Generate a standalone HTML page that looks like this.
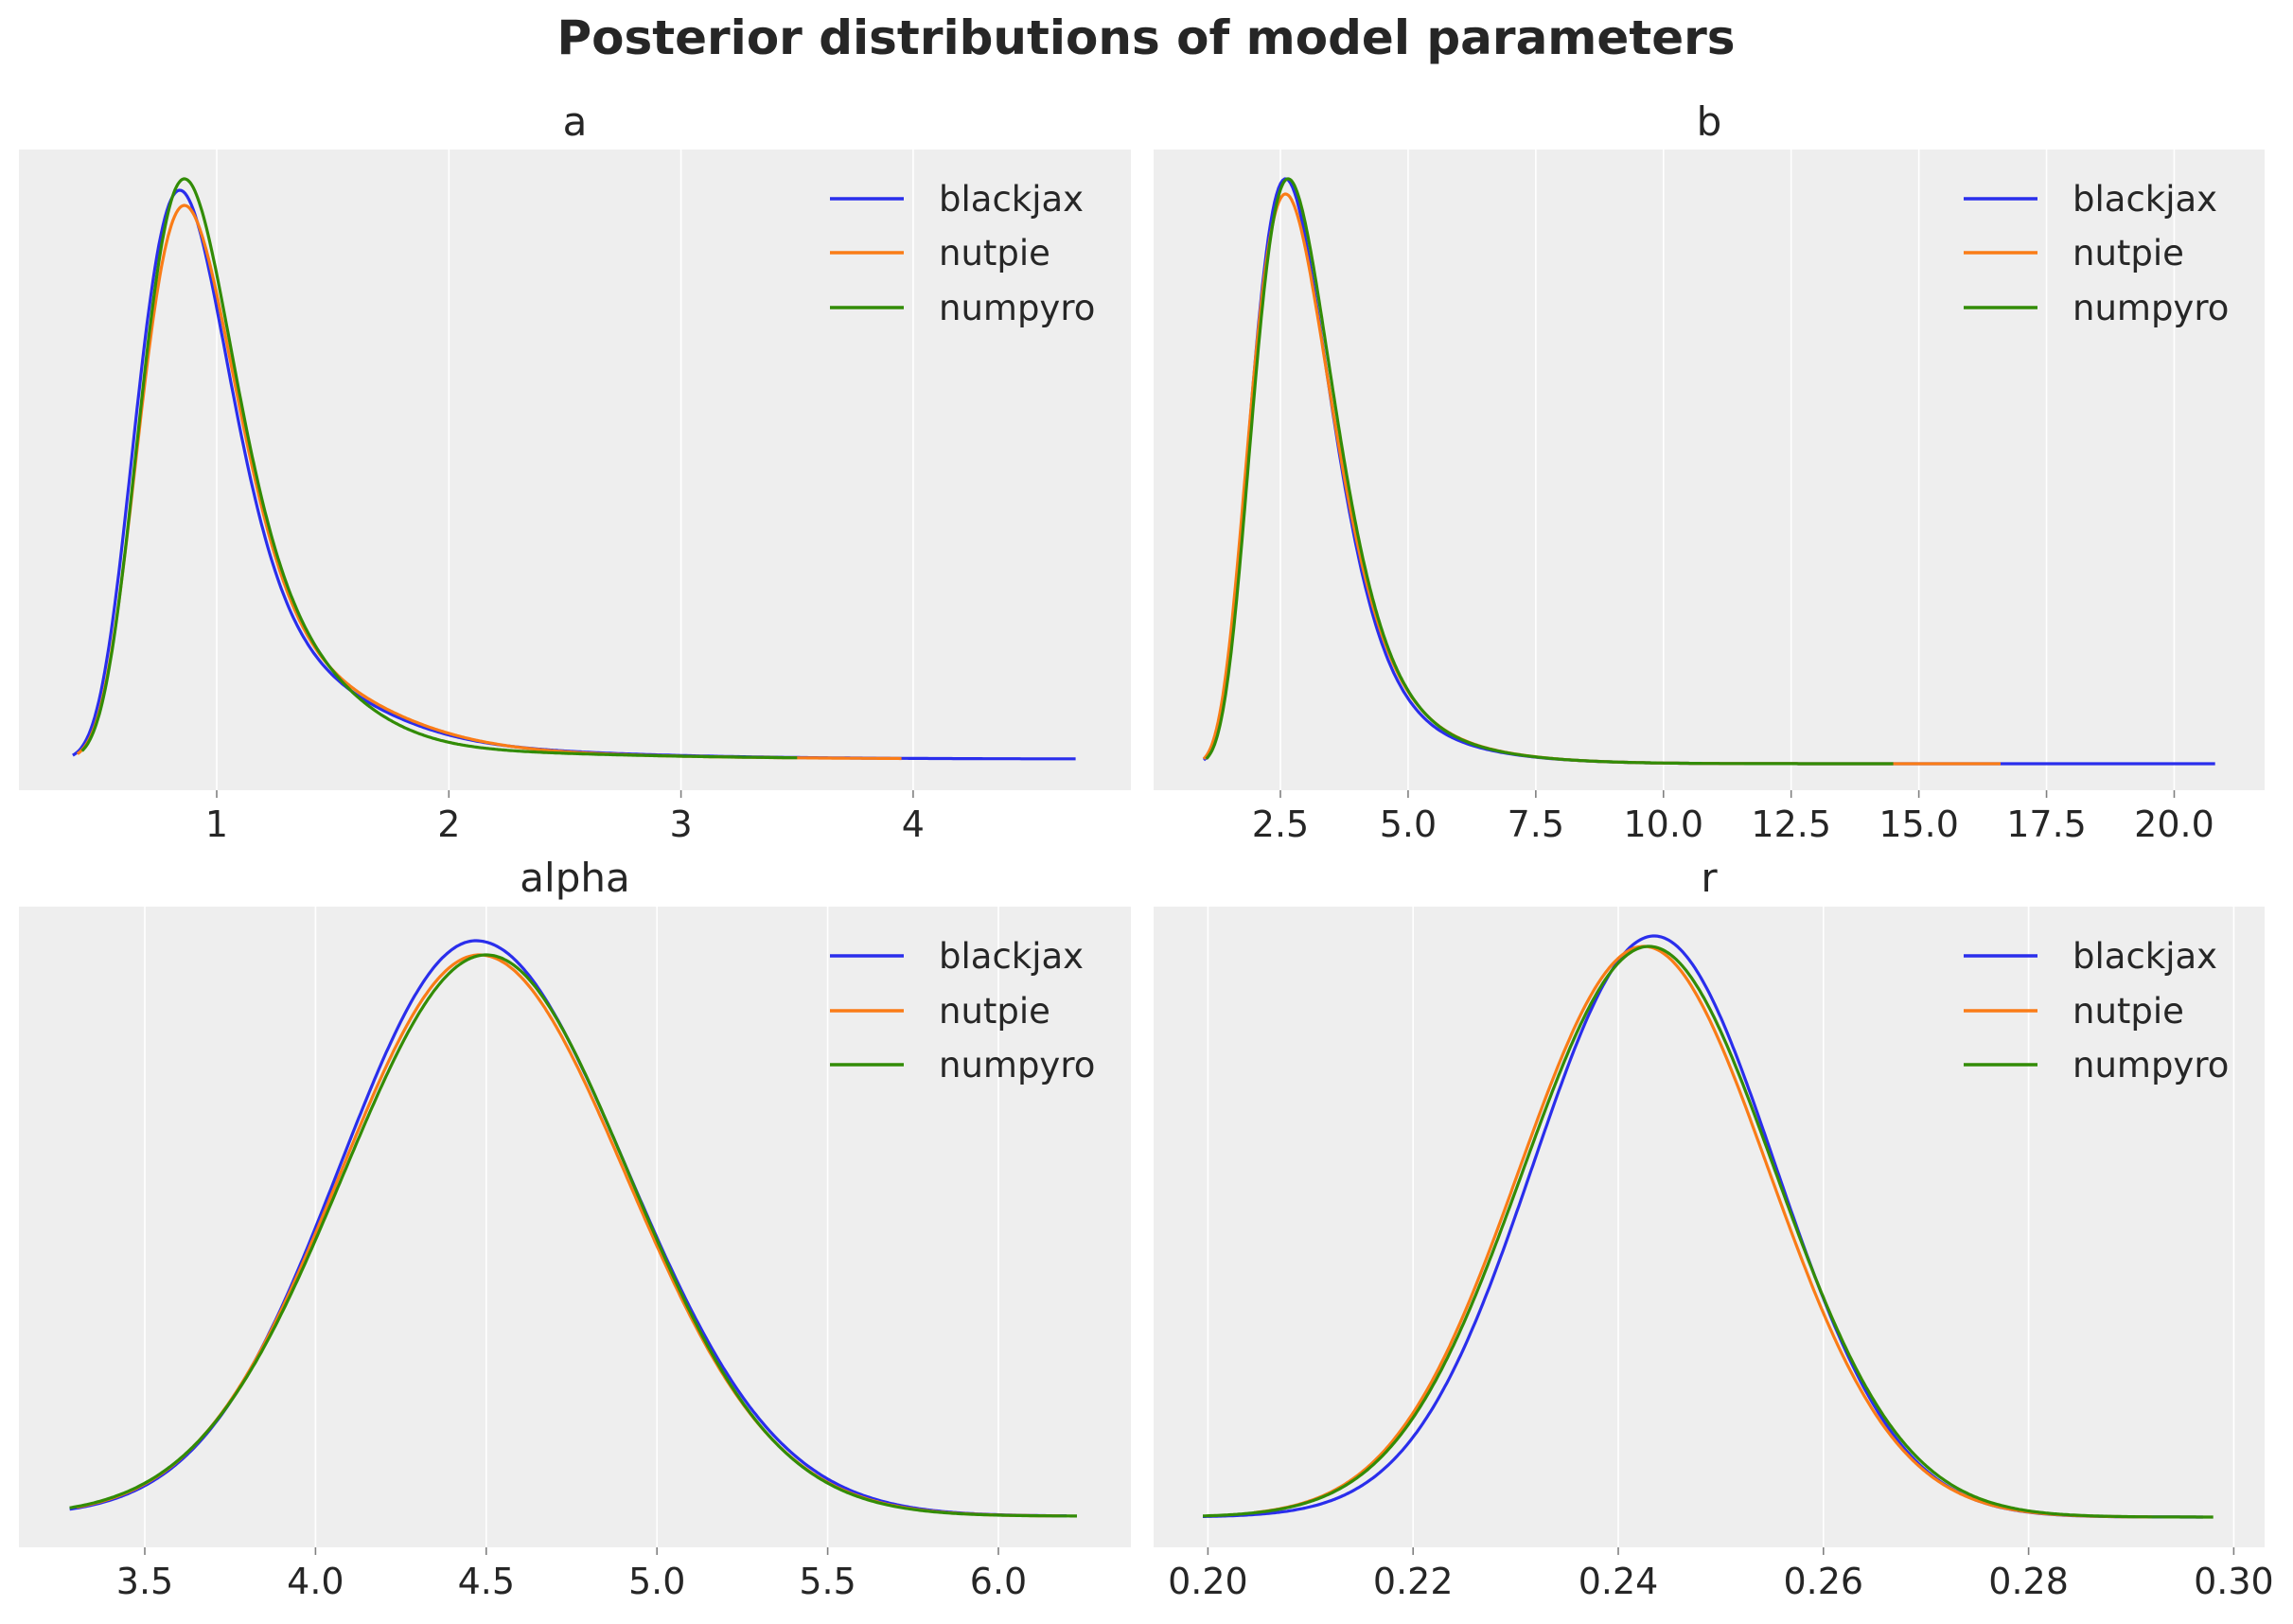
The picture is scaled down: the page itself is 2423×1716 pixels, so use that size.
<!DOCTYPE html>
<html><head><meta charset="utf-8"><style>
html,body{margin:0;padding:0;background:#fff;}
svg text{font-family:"DejaVu Sans","Liberation Sans",sans-serif;fill:#262626;}
</style></head><body>
<svg id="s" width="2423" height="1711" xmlns="http://www.w3.org/2000/svg">
<rect width="2423" height="1711" fill="#fff"/>
<text x="1211" y="57" font-size="50" font-weight="bold" text-anchor="middle">Posterior distributions of model parameters</text>
<g id="g"></g>
</svg>
<script>
const g=document.getElementById('g');
const NS='http://www.w3.org/2000/svg';
function el(t,a,txt){const e=document.createElementNS(NS,t);for(const k in a)e.setAttribute(k,a[k]);if(txt!==undefined)e.textContent=txt;g.appendChild(e);return e;}
const cols=['#2a2eec','#fa7c17','#328c06'],names=['blackjax','nutpie','numpyro'];
function ln(x,m,s){if(x<=0)return 0;const mu=Math.log(m)+s*s;return m/x*Math.exp(-((Math.log(x)-mu)**2-(Math.log(m)-mu)**2)/(2*s*s));}
function nm(x,m,s){return Math.exp(-(x-m)*(x-m)/(2*s*s));}
const panels=[
 {L:20,R:1195,T:158,B:835,title:'a',ty:129,px:x=>-16.3+245.3*x,ticks:[[1,'1'],[2,'2'],[3,'3'],[4,'4']],base:802,
  series:[{r:[0.38,4.7],pk:201,f:x=>ln(x,0.84,0.25)+0.07*ln(x,1.5,0.2)+0.015*ln(x,2.0,0.3)},
          {r:[0.4,3.95],pk:217,f:x=>ln(x,0.86,0.25)+0.07*ln(x,1.55,0.2)+0.012*ln(x,2.0,0.3)},
          {r:[0.42,3.5],pk:189,f:x=>ln(x,0.86,0.245)+0.07*ln(x,1.45,0.18)+0.012*ln(x,2.0,0.3)}],lx:877,tx:992,ly:[210,267,325]},
 {L:1219,R:2393,T:158,B:835,title:'b',ty:129,px:x=>1353+(x-2.5)*53.97,ticks:[[2.5,'2.5'],[5,'5.0'],[7.5,'7.5'],[10,'10.0'],[12.5,'12.5'],[15,'15.0'],[17.5,'17.5'],[20,'20.0']],base:807,
  series:[{r:[1.0,20.8],pk:189,f:x=>ln(x,2.6,0.3)+0.02*ln(x,5.5,0.25)},
          {r:[1.0,16.6],pk:205,f:x=>ln(x,2.6,0.31)+0.02*ln(x,5.5,0.25)},
          {r:[1.05,14.5],pk:189,f:x=>ln(x,2.65,0.3)+0.02*ln(x,5.5,0.25)}],lx:2075,tx:2190,ly:[210,267,325]},
 {L:20,R:1195,T:958,B:1635,title:'alpha',ty:928,px:x=>153+(x-3.5)*360.8,ticks:[[3.5,'3.5'],[4,'4.0'],[4.5,'4.5'],[5,'5.0'],[5.5,'5.5'],[6,'6.0']],base:1602,
  series:[{r:[3.28,6.2],pk:994,f:x=>nm(x,4.47,x<4.47?0.4:0.44)},
          {r:[3.3,6.18],pk:1009,f:x=>nm(x,4.48,x<4.48?0.41:0.43)},
          {r:[3.28,6.23],pk:1009,f:x=>nm(x,4.5,x<4.5?0.42:0.42)}],lx:877,tx:992,ly:[1010,1068,1125]},
 {L:1219,R:2393,T:958,B:1635,title:'r',ty:928,px:x=>1276.4+(x-0.2)*10840,ticks:[[0.2,'0.20'],[0.22,'0.22'],[0.24,'0.24'],[0.26,'0.26'],[0.28,'0.28'],[0.3,'0.30']],base:1603,
  series:[{r:[0.1995,0.297],pk:989,f:x=>nm(x,0.2435,0.0118)},
          {r:[0.2045,0.292],pk:1000,f:x=>nm(x,0.2425,0.0122)},
          {r:[0.1995,0.298],pk:1000,f:x=>nm(x,0.243,0.0123)}],lx:2075,tx:2190,ly:[1010,1068,1125]}
];
for(const p of panels){
 el('rect',{x:p.L,y:p.T,width:p.R-p.L,height:p.B-p.T,fill:'#eeeeee'});
 for(const [v,l] of p.ticks){const X=p.px(v);
  el('line',{x1:X,y1:p.T,x2:X,y2:p.B,stroke:'#fff','stroke-width':1.6});
  el('line',{x1:X,y1:p.B,x2:X,y2:p.B+8,stroke:'#808080','stroke-width':1.6});
  el('text',{x:X,y:p.B+49,'font-size':38,'text-anchor':'middle'},l);}
 el('text',{x:(p.L+p.R)/2,y:p.ty+14,'font-size':42,'text-anchor':'middle'},p.title);
 p.series.forEach((s,i)=>{let d='';const N=500;let mx=0;const pts=[];
  for(let k=0;k<=N;k++){const x=s.r[0]+(s.r[1]-s.r[0])*k/N;const y=s.f(x);pts.push([x,y]);if(y>mx)mx=y;}
  pts.forEach(([x,y],k)=>{const Y=p.base-(p.base-s.pk)*y/mx;d+=(k?'L':'M')+p.px(x).toFixed(1)+' '+Y.toFixed(1);});
  el('path',{d:d,fill:'none',stroke:cols[i],'stroke-width':3.2,'stroke-linejoin':'round'});});
 p.ly.forEach((y,i)=>{el('line',{x1:p.lx,y1:y,x2:p.lx+78,y2:y,stroke:cols[i],'stroke-width':3.5});
  el('text',{x:p.tx,y:y+13,'font-size':37},names[i]);});
}
</script>
</body></html>
